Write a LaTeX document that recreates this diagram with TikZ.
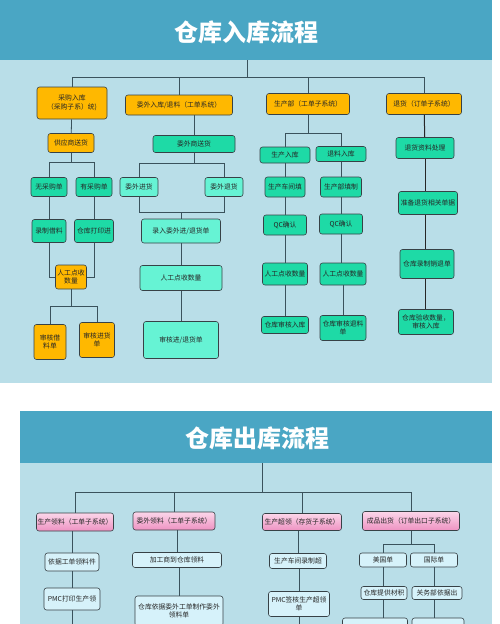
\documentclass[tikz,border=0pt]{standalone}
\usepackage{fontspec}
\setmainfont{Noto Sans CJK SC}
\usetikzlibrary{calc}
\definecolor{hdr}{RGB}{74,166,196}
\definecolor{bodyC}{RGB}{185,222,232}
\definecolor{orangeC}{RGB}{255,184,0}
\definecolor{greenC}{RGB}{30,218,166}
\definecolor{aquaC}{RGB}{102,243,212}
\definecolor{pinkT}{RGB}{251,214,233}
\definecolor{pinkB}{RGB}{238,146,194}
\definecolor{cyanC}{RGB}{214,242,250}
\definecolor{lineC}{RGB}{58,82,92}
\definecolor{boxline}{RGB}{55,65,70}
\begin{document}
\begin{tikzpicture}[x=1pt,y=-1pt,
  box/.style={draw=boxline, line width=0.6pt, rounded corners=2.5pt, inner sep=1pt, align=center, font=\fontsize{6.8}{8.6}\selectfont, text=black!85},
  org/.style={box, fill=orangeC},
  grn/.style={box, fill=greenC},
  aqu/.style={box, fill=aquaC},
  pnk/.style={box, top color=pinkT, bottom color=pinkB},
  cyn/.style={box, fill=cyanC},
  ln/.style={draw=lineC, line width=0.8pt},
  dk/.style={draw=black!85, line width=1pt},
  sz/.style 2 args={minimum width=#1pt, minimum height=#2pt},
  ttl/.style={text=white, font=\fontsize{24}{28}\selectfont\bfseries}
]
\useasboundingbox (0,0) rectangle (500,624);
\clip (0,0) rectangle (500,624);
\fill[white] (0,0) rectangle (500,624);
% ---------- top panel ----------
\fill[bodyC] (0,60) rectangle (492,383);
\fill[hdr] (0,0) rectangle (492,60);
\node[ttl] (T1) at (246,32) {仓库入库流程};
\coordinate (t0) at (247,60);
\coordinate (L1) at (0,77);
% level 1
\node[org, sz={70}{32}] (A1) at (72,103) {采购入库\\（采购子系）统)};
\node[org, sz={107}{20}] (B1) at (179,105) {委外入库/退料（工单系统）};
\node[org, sz={83}{21}] (C1) at (308,104) {生产部（工单子系统）};
\node[org, sz={75}{21}] (D1) at (424,104) {退货（订单子系统）};
% column A
\node[org, sz={46}{19}] (A2) at (71,143) {供应商送货};
\node[grn, sz={36}{19}] (A3) at (49,187) {无采购单};
\node[grn, sz={36}{19}] (A4) at (94,187) {有采购单};
\node[grn, sz={34}{23}] (A5) at (49,231) {录制借料};
\node[grn, sz={39}{23}] (A6) at (94,231) {仓库打印进};
\node[org, sz={31}{24}] (A7) at (71,277) {人工点收\\数量};
\node[org, sz={32}{35}] (A8) at (50,342) {审核借\\料单};
\node[org, sz={35}{35}] (A9) at (97,340) {审核进货\\单};
% column B
\node[grn, sz={82}{17}] (B2) at (194,144) {委外商送货};
\node[aqu, sz={38}{19}] (B3) at (139,187) {委外进货};
\node[aqu, sz={38}{19}] (B4) at (224,187) {委外退货};
\node[aqu, sz={79}{24}] (B5) at (181,231) {录入委外进/退货单};
\node[aqu, sz={82}{25}] (B6) at (181,278) {人工点收数量};
\node[aqu, sz={75}{37}] (B7) at (181,340) {审核进/退货单};
% column C
\node[grn, sz={50}{16}] (C2) at (285,155) {生产入库};
\node[grn, sz={50}{15}] (C3) at (341,154) {退料入库};
\node[grn, sz={40}{20}] (C4) at (285,187) {生产车间填};
\node[grn, sz={41}{20}] (C5) at (341,187) {生产部填制};
\node[grn, sz={43}{20}] (C6) at (285,225) {QC确认};
\node[grn, sz={43}{20}] (C7) at (341,224) {QC确认};
\node[grn, sz={45}{22}] (C8) at (285,274) {人工点收数量};
\node[grn, sz={46}{22}] (C9) at (343,274) {人工点收数量};
\node[grn, sz={47}{17}] (C10) at (285,325) {仓库审核入库};
\node[grn, sz={46}{25}] (C11) at (343,328) {仓库审核退料\\单};
% column D
\node[grn, sz={58}{21}] (D2) at (425,148) {退货资料处理};
\node[grn, sz={59}{23}] (D3) at (428,203) {准备退货相关单据};
\node[grn, sz={54}{29}] (D4) at (427,264) {仓库录制销退单};
\node[grn, sz={55}{25}] (D5) at (426,322) {仓库验收数量，\\审核入库};
% split levels
\coordinate (yA1) at (0,162);
\coordinate (yA2) at (0,306);
\coordinate (yB1) at (0,163);
\coordinate (yB2) at (0,212);
\coordinate (yC1) at (0,133);
% edges top
\draw[ln] (t0) -- (t0 |- L1);
\draw[ln] (A1.north) -- (A1.north |- L1) -| (D1.north);
\draw[ln] (B1.north) -- (B1.north |- L1);
\draw[ln] (C1.north) -- (C1.north |- L1);
\draw[ln] (A1) -- (A2);
\draw[ln] (A2.south) -- (A2.south |- yA1);
\draw[ln] (A3.north) -- (A3.north |- yA1) -| (A4.north);
\draw[ln] (A3) -- (A5);
\draw[ln] (A4) -- (A6);
\draw[ln] (A5.south) |- (A7.west);
\draw[ln] (A6.south) |- (A7.east);
\draw[ln] (A7.south) -- (A7.south |- yA2);
\draw[ln] (A8.north) -- (A8.north |- yA2) -| (A9.north);
\draw[ln] (B2.north |- B1.south) -- (B2.north);
\draw[ln] (B2.south) -- (B2.south |- yB1);
\draw[ln] (B3.north) -- (B3.north |- yB1) -| (B4.north);
\draw[ln] (B3.south) -- (B3.south |- yB2) -| (B4.south);
\draw[ln] (B5.north |- yB2) -- (B5.north);
\draw[ln] (B5) -- (B6);
\draw[ln] (B6) -- (B7);
\draw[ln] (C1.south) -- (C1.south |- yC1);
\draw[ln] (C2.north) -- (C2.north |- yC1) -| (C3.north);
\draw[ln] (C2) -- (C4);
\draw[ln] (C4) -- (C6);
\draw[ln] (C6) -- (C8);
\draw[ln] (C8) -- (C10);
\draw[ln] (C3) -- (C5);
\draw[ln] (C5) -- (C7);
\draw[ln] (C7.south) -- (C9.north -| C7.south);
\draw[ln] (C9) -- (C11);
\draw[dk] (D1) -- (D2);
\draw[dk] (D2) -- (D3.north -| D2.south);
\draw[dk] (D3.south -| D2.south) -- (D4.north -| D2.south);
\draw[dk] (D4.south -| D2.south) -- (D5.north -| D2.south);
% ---------- bottom panel ----------
\fill[bodyC] (20,463) rectangle (492,624);
\fill[hdr] (20,411) rectangle (492,463);
\node[ttl] (T2) at (257,438) {仓库出库流程};
\coordinate (t1) at (262,463);
\coordinate (L2) at (0,492);
\coordinate (yH) at (0,544);
\coordinate (bot) at (0,640);
\node[pnk, sz={77}{18}] (E1) at (75,522) {生产领料（工单子系统）};
\node[pnk, sz={82}{18}] (F1) at (174,521) {委外领料（工单子系统）};
\node[pnk, sz={79}{17}] (G1) at (302,522) {生产超领（存货子系统）};
\node[pnk, sz={97}{19}] (H1) at (411,521) {成品出货（订单出口子系统）};
\node[cyn, sz={54}{18}] (E2) at (72,562) {依据工单领料件};
\node[cyn, sz={56}{22}] (E3) at (72,599) {PMC打印生产领};
\node[cyn, sz={89}{15}] (F2) at (177,560) {加工商到仓库领料};
\node[cyn, sz={88}{30}] (F3) at (179,611) {仓库依据委外工单制作委外\\领料单};
\node[cyn, sz={57}{15}] (G2) at (298,561) {生产车间录制超};
\node[cyn, sz={61}{25}] (G3) at (299,604) {PMC签核生产超领\\单};
\node[cyn, sz={47}{14}] (H2) at (383,560) {美国单};
\node[cyn, sz={47}{14}] (H3) at (434,560) {国际单};
\node[cyn, sz={46}{13}] (H4) at (384,593) {仓库提供材积};
\node[cyn, sz={50}{13}] (H5) at (437,593) {关务部依据出};
\node[cyn, sz={65}{24}] (H6) at (375,630) {};
\node[cyn, sz={52}{24}] (H7) at (438,630) {};
\draw[ln] (t1) -- (t1 |- L2);
\draw[ln] (E1.north) -- (E1.north |- L2) -| (H1.north);
\draw[ln] (F1.north) -- (F1.north |- L2);
\draw[ln] (G1.north) -- (G1.north |- L2);
\draw[ln] (E1.south -| E2.north) -- (E2.north);
\draw[ln] (E2) -- (E3);
\draw[ln] (E3.south) -- (E3.south |- bot);
\draw[ln] (F1.south -| F2.north) -- (F2.north);
\draw[ln] (F2.south -| F3.north) -- (F3.north);
\draw[ln] (G1.south -| G2.north) -- (G2.north);
\draw[ln] (G2.south -| G3.north) -- (G3.north);
\draw[ln] (G3.south) -- (G3.south |- bot);
\draw[ln] (H1.south) -- (H1.south |- yH);
\draw[ln] (H2.north) -- (H2.north |- yH) -| (H3.north);
\draw[ln] (H2) -- (H4.north -| H2.south);
\draw[ln] (H4.south -| H2.south) -- (H6.north -| H2.south);
\draw[ln] (H3) -- (H5.north -| H3.south);
\draw[ln] (H5.south -| H3.south) -- (H7.north -| H3.south);
\end{tikzpicture}
\end{document}
